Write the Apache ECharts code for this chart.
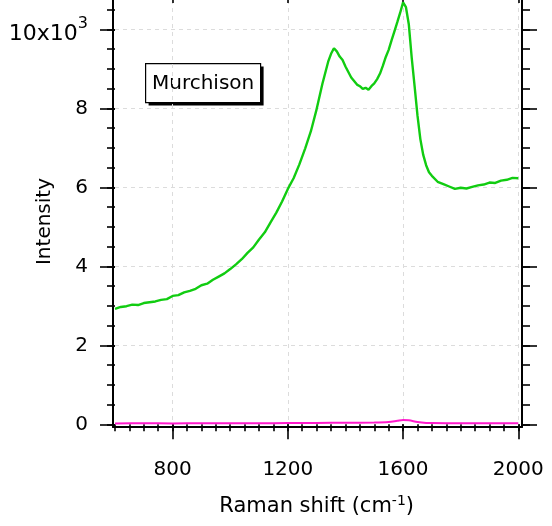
<!DOCTYPE html>
<html>
<head>
<meta charset="utf-8">
<script src="https://cdn.jsdelivr.net/npm/echarts@6/dist/echarts.min.js"></script>
<style>
html,body{margin:0;padding:0;background:#fff;}
#chart{width:552px;height:526px;}
</style>
</head>
<body>
<div id="chart"></div>
<script>
// Raman shift (cm-1) and intensity for Murchison spectrum (green)
const greenShift = [600,620,640,660,680,700,720,740,760,780,800,820,840,860,880,900,920,940,960,980,
  1000,1020,1040,1060,1080,1100,1120,1140,1160,1180,1200,1220,1240,1260,1280,1300,1320,1340,1350,1360,
  1370,1380,1390,1400,1410,1420,1430,1440,1450,1460,1470,1480,1490,1500,1510,1520,1530,1540,1550,1560,
  1570,1580,1590,1600,1605,1610,1620,1630,1640,1650,1660,1670,1680,1690,1700,1720,1740,1760,1780,1800,
  1820,1840,1860,1880,1900,1920,1940,1960,1980,2000];
const greenIntensity = [2920,2970,2990,3030,3020,3070,3090,3110,3150,3170,3250,3270,3340,3380,3430,3520,3560,3660,3740,3820,
  3930,4050,4180,4340,4480,4680,4860,5110,5360,5640,5960,6230,6580,6980,7420,7980,8620,9180,9380,9520,
  9440,9310,9220,9060,8920,8780,8690,8600,8560,8490,8520,8470,8560,8630,8740,8880,9080,9300,9480,9720,
  9950,10180,10420,10680,10700,10560,10120,9280,8560,7820,7220,6820,6560,6380,6290,6140,6080,6020,5960,5990,
  5970,6010,6050,6070,6120,6110,6170,6190,6240,6230];
// second (magenta) trace near zero
const pinkShift = [600,700,800,900,1000,1100,1200,1300,1400,1500,1550,1580,1600,1620,1650,1680,1700,1800,1900,2000];
const pinkIntensity = [20,25,22,25,25,28,30,35,38,45,60,90,110,100,60,35,30,28,28,28];
// tick labels
const xTickLabels = [800,1200,1600,2000];
const yTickLabels = {0:'0',2000:'2',4000:'4',6000:'6',8000:'8',10000:'{a|10x10}{b|3}'};
const panelLabel = 'Murchison';

const FONT = 'DejaVu Sans';
const chart = echarts.init(document.getElementById('chart'), null, {renderer:'canvas'});

const greenData = greenShift.map((x,i)=>[x, greenIntensity[i]]);
const pinkData = pinkShift.map((x,i)=>[x, pinkIntensity[i]]);

const frameLine = {show:true, lineStyle:{color:'#000', width:2}};
const noThing = {show:false};
const tickStyle = {color:'#000', width:1.6};
const dash = {show:true, lineStyle:{color:'#dcdcdc', type:[4,4], width:1}};
const hiddenAxis = (g)=>({gridIndex:g, type:'value', min:0, max:1, show:false});

const option = {
  backgroundColor:'#fff',
  animation:false,
  grid:[
    {left:113, right:30, top:0, bottom:99},             // 0 frame
    {left:115, right:33.7, top:0, bottom:101.7},        // 1 data
    {left:172.61, right:33.7, top:0, bottom:101.7},     // 2 major x ticks
    {left:115, right:33.7, top:9.55, bottom:101.7},     // 3 minor y ticks (0..10500)
    {left:115, right:33.7, top:29.3, bottom:101.7}      // 4 major y ticks (0..10000)
  ],
  xAxis:[
    {gridIndex:0, type:'value', min:0, max:1, axisLine:frameLine, axisTick:noThing, axisLabel:noThing, splitLine:noThing},
    {gridIndex:1, type:'value', min:600, max:2000, interval:50, offset:2.7,
      axisLine:noThing, axisTick:{show:true, length:7, lineStyle:tickStyle},
      axisLabel:noThing, splitLine:noThing,
      name:'Raman shift (cm{s|-1})', nameLocation:'middle', nameGap:67,
      nameTextStyle:{fontFamily:FONT, fontSize:21, color:'#000',
        rich:{s:{fontFamily:FONT, fontSize:14, color:'#000', padding:[0,0,12,0]}}}},
    {gridIndex:2, type:'value', min:800, max:2000, interval:400, offset:2.7,
      axisLine:noThing, axisTick:{show:true, length:15, lineStyle:tickStyle},
      axisLabel:{show:true, margin:33, fontFamily:FONT, fontSize:20, color:'#000',
        formatter:v=> xTickLabels.includes(v) ? String(v) : ''},
      splitLine:dash},
    {gridIndex:2, type:'value', position:'top', min:800, max:2000, interval:400,
      axisLine:noThing, axisTick:{show:true, inside:true, length:3, lineStyle:tickStyle},
      axisLabel:noThing, splitLine:noThing},
    hiddenAxis(3),
    hiddenAxis(4)
  ],
  yAxis:[
    {gridIndex:0, type:'value', min:0, max:1, axisLine:frameLine, axisTick:noThing, axisLabel:noThing, splitLine:noThing,
      name:'Intensity', nameLocation:'middle', nameGap:58,
      nameTextStyle:{fontFamily:FONT, fontSize:20, color:'#000', padding:[0,16,0,0]}},
    {gridIndex:0, type:'value', position:'right', min:0, max:1, axisLine:frameLine, axisTick:noThing, axisLabel:noThing, splitLine:noThing},
    {gridIndex:1, type:'value', min:0, max:10742, show:false},
    hiddenAxis(2),
    {gridIndex:3, type:'value', min:0, max:10500, interval:500, offset:2,
      axisLine:noThing, axisTick:{show:true, length:8, lineStyle:tickStyle}, axisLabel:noThing, splitLine:noThing},
    {gridIndex:3, type:'value', position:'right', min:0, max:10500, interval:500, offset:3.7,
      axisLine:noThing, axisTick:{show:true, length:8, lineStyle:tickStyle}, axisLabel:noThing, splitLine:noThing},
    {gridIndex:4, type:'value', min:0, max:10000, interval:2000, offset:2,
      axisLine:noThing, axisTick:{show:true, length:15, lineStyle:tickStyle},
      axisLabel:{show:true, margin:25, fontFamily:FONT, fontSize:20, color:'#000',
        formatter:v=> yTickLabels[v] !== undefined ? yTickLabels[v] : '',
        rich:{a:{fontFamily:FONT, fontSize:22, color:'#000', padding:[10,0,0,0]},
              b:{fontFamily:FONT, fontSize:16, color:'#000', padding:[0,0,11,0]}}},
      splitLine:{show:true, showMinLine:false, lineStyle:{color:'#dcdcdc', type:[4,4], width:1}}},
    {gridIndex:4, type:'value', position:'right', min:0, max:10000, interval:2000, offset:3.7,
      axisLine:noThing, axisTick:{show:true, length:15, lineStyle:tickStyle}, axisLabel:noThing, splitLine:noThing}
  ],
  series:[
    {type:'line', name:'pink', xAxisIndex:1, yAxisIndex:2, data:pinkData, showSymbol:false, symbol:'none',
      smooth:0.3, lineStyle:{color:'#ff1acc', width:2}, z:3},
    {type:'line', name:'Murchison', xAxisIndex:1, yAxisIndex:2, data:greenData, showSymbol:false, symbol:'none',
      lineStyle:{color:'#11cc11', width:2.4}, z:4}
  ],
  graphic:[
    {type:'group', left:145, top:63, children:[
      {type:'rect', shape:{x:3, y:3, width:115, height:39}, style:{fill:'#000'}},
      {type:'rect', shape:{x:0, y:0, width:115, height:39}, style:{fill:'#fff', stroke:'#000', lineWidth:1.2}},
      {type:'text', x:57.5, y:20, style:{text:panelLabel, font:'20px "DejaVu Sans"', fill:'#000', align:'center', verticalAlign:'middle'}}
    ]}
  ]
};
chart.setOption(option);
</script>
</body>
</html>
